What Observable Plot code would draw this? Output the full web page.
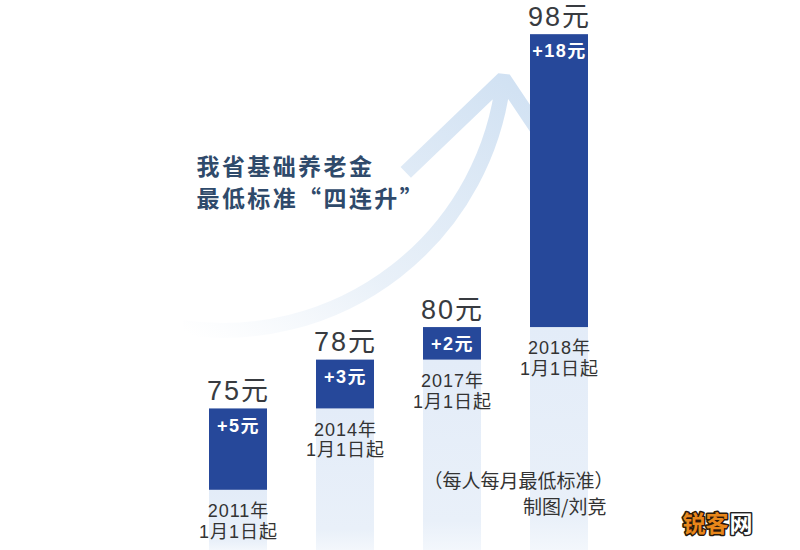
<!DOCTYPE html>
<html>
<head>
<meta charset="utf-8">
<script src="https://cdn.jsdelivr.net/npm/d3@7"></script>
<script src="https://cdn.jsdelivr.net/npm/@observablehq/plot@0.6"></script>
<style>
  html, body { margin: 0; padding: 0; background: #ffffff; }
  #chart svg { display: block; }
</style>
</head>
<body>
<div id="chart"></div>
<script>
// ---- data ----
const years = ["2011年", "2014年", "2017年", "2018年"];
const totals = [75, 78, 80, 98];          // 元 per person per month
const increases = [5, 3, 2, 18];          // 元 increase
const startLabel = "1月1日起";
const titleLines = ["我省基础养老金", "最低标准“四连升”"];
const noteLine = "（每人每月最低标准）";
const creditLine = "制图/刘竞";
const yFloor = 66.3, yTop = 100.1;        // visible value window
const swoosh = [{from: years[0], to: years[3], v1: 80.0, v2: 95.3}];

const rows = years.map((y, i) => ({
  year: y, total: totals[i], inc: increases[i], base: totals[i] - increases[i]
}));

const FONT = '"Liberation Sans", "Noto Sans CJK SC", sans-serif';
const CJK = '"Noto Sans CJK SC", sans-serif';

const chart = Plot.plot({
  width: 800,
  height: 550,
  marginTop: 0, marginBottom: 0, marginLeft: 158, marginRight: 161,
  style: {fontFamily: FONT, background: "#ffffff"},
  x: {type: "band", domain: years, padding: 0.46, axis: null},
  y: {domain: [yFloor, yTop], range: [550, 0], axis: null},
  marks: [
    // pale columns under each step
    Plot.rectY(rows, {x: "year", y1: "base", y2: yFloor, fill: "url(#colGrad)"}),
    // swoosh arrow
    Plot.arrow(swoosh, {
      x1: "from", x2: "to", y1: "v1", y2: "v2", dx: -56,
      bend: -46, stroke: "url(#arrowGrad)", strokeWidth: 15,
      headLength: 15, headAngle: 80, strokeLinecap: "butt", strokeLinejoin: "miter"
    }),
    // increase blocks
    Plot.rectY(rows, {x: "year", y1: "base", y2: "total", fill: "#26489a"}),
    // totals
    Plot.text(rows, {
      x: "year", y: "total", text: d => `${d.total}元`, dy: -9,
      lineAnchor: "bottom", fontSize: 27, fill: "#383b40"
    }),
    // increases
    Plot.text(rows, {
      x: "year", y: "total", text: d => `+${d.inc}元`, dy: 10,
      lineAnchor: "top", fontSize: 18, fontWeight: "bold", fill: "#ffffff"
    }),
    // dates
    Plot.text(rows, {
      x: "year", y: "base", text: d => `${d.year}\n${startLabel}`, dy: 12,
      lineAnchor: "top", fontSize: 18, lineHeight: 1.15, fill: "#333333"
    }),
    // title
    Plot.text([titleLines.join("\n")], {
      frameAnchor: "top-left", dx: 38, dy: 152, textAnchor: "start", lineAnchor: "top",
      fontSize: 23, fontWeight: "bold", lineHeight: 1.38, fill: "#2f4a6b", fontFamily: CJK
    }),
    // note & credit
    Plot.text([noteLine], {
      frameAnchor: "bottom-right", dx: -26, dy: -63, textAnchor: "end", lineAnchor: "bottom",
      fontSize: 19, fill: "#333333", fontFamily: CJK
    }),
    Plot.text([creditLine], {
      frameAnchor: "bottom-right", dx: -33, dy: -37, textAnchor: "end", lineAnchor: "bottom",
      fontSize: 19, fill: "#333333", fontFamily: CJK
    }),
    // watermark
    Plot.text(["锐客"], {
      frameAnchor: "bottom-right", dx: 89, dy: -19, textAnchor: "end", lineAnchor: "bottom",
      fontSize: 23, fontWeight: "bold", fill: "#e8861a", stroke: "#2a1a0a", strokeWidth: 3,
      paintOrder: "stroke", fontFamily: CJK
    }),
    Plot.text(["网"], {
      frameAnchor: "bottom-right", dx: 113, dy: -19, textAnchor: "end", lineAnchor: "bottom",
      fontSize: 23, fontWeight: "bold", fill: "#ffffff", stroke: "#222222", strokeWidth: 3,
      paintOrder: "stroke", fontFamily: CJK
    })
  ]
});

// letter spacing for the wider lettering of the original
const spacing = (txt) => {
  if (titleLines.some(t => txt.includes(t))) return 2.4;
  if (totals.some(v => txt === `${v}元`)) return 2;
  if (increases.some(v => txt === `+${v}元`)) return 1.5;
  if (years.some(y => txt.includes(y)) || txt.includes(startLabel)) return 1;
  return 0;
};
chart.querySelectorAll("text").forEach(t => {
  const s = spacing(t.textContent);
  if (s) t.setAttribute("letter-spacing", s);
});

// gradients used by the pale columns and the swoosh
const ns = "http://www.w3.org/2000/svg";
const defs = document.createElementNS(ns, "defs");
defs.innerHTML = `
  <linearGradient id="colGrad" x1="0" y1="0" x2="0" y2="1">
    <stop offset="0" stop-color="#e3ecf8"/>
    <stop offset="0.85" stop-color="#e9f0f9"/>
    <stop offset="1" stop-color="#f3f7fc"/>
  </linearGradient>
  <linearGradient id="arrowGrad" x1="0" y1="1" x2="1" y2="0">
    <stop offset="0" stop-color="#dce8f5" stop-opacity="0"/>
    <stop offset="0.35" stop-color="#d6e4f3" stop-opacity="0.55"/>
    <stop offset="1" stop-color="#cddff2" stop-opacity="1"/>
  </linearGradient>`;
chart.insertBefore(defs, chart.firstChild);
document.getElementById("chart").appendChild(chart);
</script>
</body>
</html>
